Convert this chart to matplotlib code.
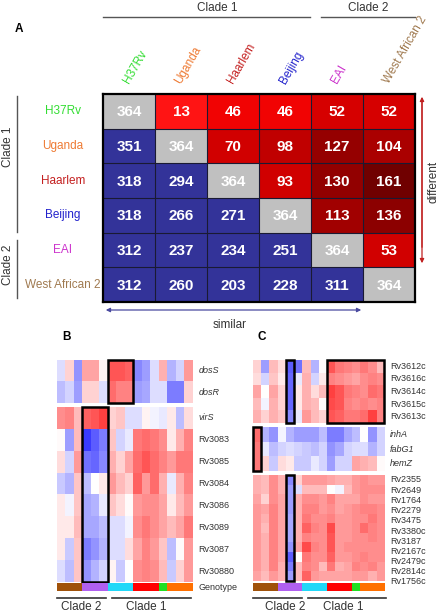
import numpy as np
import matplotlib
matplotlib.use("Agg")
import matplotlib.pyplot as plt
from matplotlib.colors import LinearSegmentedColormap, ListedColormap
from matplotlib.patches import Rectangle, FancyArrowPatch
from matplotlib.lines import Line2D

plt.rcParams['font.family'] = ['Liberation Sans', 'DejaVu Sans']

# ---------------- data ----------------
strains = ["H37Rv", "Uganda", "Haarlem", "Beijing", "EAI", "West African 2"]
strain_colors = ["#33dd33", "#ee7a33", "#c42020", "#2222cc", "#cc33cc", "#a07a50"]
shared = np.array([
    [364, 13, 46, 46, 52, 52],
    [351, 364, 70, 98, 127, 104],
    [318, 294, 364, 93, 130, 161],
    [318, 266, 271, 364, 113, 136],
    [312, 237, 234, 251, 364, 53],
    [312, 260, 203, 228, 311, 364],
])

genotype = ["West African 2"] * 3 + ["EAI"] * 3 + ["Beijing"] * 3 + ["Haarlem"] * 3 + ["H37Rv"] + ["Uganda"] * 3
genotype_names = ["West African 2", "EAI", "Beijing", "Haarlem", "H37Rv", "Uganda"]
genotype_colors = ["#a0520a", "#b060f0", "#22d8f8", "#ff0000", "#22e022", "#ff7000"]

B_top_genes = ["dosS", "dosR"]
B_top = [
    [-0.15, 0.2, -0.5, 0.4, 0.4, 0.05, 0.75, 0.75, 0.7, -0.55, -0.45, -0.15, 0.35, -0.35, -0.2, 0.45],
    [-0.3, -0.2, -0.45, 0.2, 0.2, -0.15, 0.65, 0.55, 0.55, -0.45, -0.4, -0.15, -0.15, -0.6, -0.6, 0.2],
]
B_bot_genes = ["virS", "Rv3083", "Rv3085", "Rv3084", "Rv3086", "Rv3089", "Rv3087", "Rv30880"]
B_bot = [
    [0.5, 0.55, 0.3, 0.7, 0.75, 0.85, 0.2, 0.25, -0.15, -0.15, 0.05, -0.05, -0.1, 0.1, -0.3, 0.15],
    [0.02, -0.45, 0.3, -0.9, -0.75, -0.6, 0.25, -0.2, -0.1, 0.6, 0.65, 0.6, 0.5, 0.1, 0.35, 0.55],
    [0.15, -0.2, 0.45, -0.65, -0.7, -0.55, 0.35, 0.2, 0.4, 0.65, 0.75, 0.65, 0.55, 0.45, 0.6, 0.6],
    [-0.25, -0.35, 0.25, -0.3, 0.0, 0.1, 0.45, 0.3, 0.2, 0.7, 0.45, 0.65, 0.35, -0.1, 0.35, 0.55],
    [0.1, -0.05, 0.25, -0.4, -0.35, -0.1, 0.25, 0.15, 0.02, 0.45, 0.5, 0.5, 0.4, 0.1, 0.3, 0.45],
    [0.1, 0.1, 0.3, -0.4, -0.4, -0.3, -0.15, -0.15, -0.05, 0.5, 0.6, 0.5, 0.4, 0.3, 0.4, 0.6],
    [0.1, -0.25, 0.25, -0.6, -0.5, -0.35, -0.15, -0.15, 0.15, 0.4, 0.55, 0.45, 0.25, -0.3, 0.02, 0.45],
    [-0.15, -0.3, 0.25, -0.5, -0.35, -0.2, 0.05, -0.25, 0.0, 0.5, 0.55, 0.5, 0.3, -0.25, 0.2, 0.45],
]

C_top_genes = ["Rv3612c", "Rv3616c", "Rv3614c", "Rv3615c", "Rv3613c"]
C_top = [
    [0.2, -0.45, 0.3, 0.15, -0.75, -0.65, 0.3, -0.35, 0.02, 0.75, 0.6, 0.55, 0.5, 0.6, 0.5, 0.3],
    [0.15, -0.2, 0.25, 0.1, -0.7, -0.1, 0.35, -0.2, 0.1, 0.55, 0.5, 0.45, 0.4, 0.5, 0.55, 0.5],
    [0.4, 0.0, 0.4, 0.2, -0.7, 0.1, 0.35, 0.15, 0.3, 0.85, 0.75, 0.6, 0.55, 0.5, 0.65, 0.6],
    [0.3, -0.05, 0.35, 0.2, -0.7, 0.1, 0.35, 0.3, 0.02, 0.8, 0.75, 0.55, 0.5, 0.55, 0.5, 0.55],
    [0.35, 0.2, 0.35, 0.25, -0.55, -0.1, 0.45, 0.3, 0.2, 0.75, 0.7, 0.6, 0.6, 0.65, 0.85, 0.55],
]
C_mid_genes = ["inhA", "fabG1", "hemZ"]
C_mid = [
    [0.65, -0.35, -0.5, -0.05, -0.35, -0.45, -0.45, -0.45, -0.3, -0.6, -0.6, -0.4, -0.3, 0.0, -0.5, -0.2],
    [0.6, -0.1, -0.3, -0.2, -0.15, -0.2, -0.25, -0.3, -0.2, -0.5, -0.4, -0.2, -0.15, -0.15, -0.35, -0.2],
    [0.6, 0.2, -0.25, 0.15, 0.1, -0.25, -0.25, -0.1, -0.2, -0.45, -0.2, -0.2, 0.4, 0.35, 0.3, 0.02],
]
C_bot_genes = ["Rv2355", "Rv2649", "Rv1764", "Rv2279", "Rv3475", "Rv3380c", "Rv3187",
               "Rv2167c", "Rv2479c", "Rv2814c", "Rv1756c"]
C_bot = [
    [0.35, 0.3, 0.5, 0.35, -0.55, 0.2, 0.45, 0.45, 0.45, 0.4, 0.35, 0.35, 0.45, 0.5, 0.45, 0.45],
    [0.35, 0.3, 0.5, 0.35, -0.45, -0.15, 0.3, 0.3, 0.3, 0.0, -0.05, 0.3, 0.45, 0.5, 0.5, 0.5],
    [0.4, 0.2, 0.5, 0.4, -0.45, 0.35, 0.5, 0.5, 0.45, 0.55, 0.4, 0.4, 0.4, 0.5, 0.45, 0.45],
    [0.45, 0.4, 0.55, 0.4, -0.45, 0.35, 0.55, 0.55, 0.45, 0.5, 0.4, 0.45, 0.5, 0.55, 0.55, 0.5],
    [0.45, 0.35, 0.55, 0.4, -0.4, 0.35, 0.6, 0.5, 0.5, 0.55, 0.45, 0.45, 0.5, 0.5, 0.6, 0.5],
    [0.45, 0.3, 0.55, 0.4, -0.4, 0.35, 0.7, 0.55, 0.5, 0.8, 0.45, 0.45, 0.5, 0.65, 0.55, 0.5],
    [0.45, 0.35, 0.55, 0.4, -0.4, 0.35, 0.55, 0.5, 0.5, 0.75, 0.45, 0.45, 0.5, 0.5, 0.55, 0.5],
    [0.45, 0.35, 0.55, 0.4, -0.5, 0.4, 0.8, 0.55, 0.5, 0.75, 0.45, 0.5, 0.5, 0.5, 0.5, 0.5],
    [0.45, 0.35, 0.55, 0.4, -0.75, 0.0, 0.6, 0.5, 0.5, 0.7, 0.45, 0.45, 0.5, 0.55, 0.5, 0.5],
    [0.45, 0.35, 0.55, 0.35, -0.6, 0.3, 0.55, 0.5, 0.3, 0.6, 0.35, 0.4, 0.55, 0.5, 0.55, 0.45],
    [0.4, 0.3, 0.45, 0.35, -0.45, 0.3, 0.7, 0.45, 0.4, 0.4, 0.4, 0.4, 0.45, 0.45, 0.35, 0.45],
]

# ---------------- figure ----------------
W, H = 440, 615
fig = plt.figure(figsize=(W / 100, H / 100), dpi=100)
TXT = "#333333"


def fax(x0, y0, x1, y1):
    return fig.add_axes([x0 / W, 1 - y1 / H, (x1 - x0) / W, (y1 - y0) / H])


def fx(x):
    return x / W


def fy(y):
    return 1 - y / H


def fline(x0, y0, x1, y1, color="#555555", lw=1.0):
    fig.add_artist(Line2D([fx(x0), fx(x1)], [fy(y0), fy(y1)], transform=fig.transFigure,
                          color=color, lw=lw))


def ftext(x, y, s, **kw):
    kw.setdefault("color", TXT)
    kw.setdefault("fontsize", 8.5)
    fig.text(fx(x), fy(y), s, **kw)


# ---------------- panel A ----------------
red_cmap = LinearSegmentedColormap.from_list(
    "reds", [(0.0, "#ff1414"), (0.22, "#f40404"), (0.27, "#d20000"), (0.55, "#d00000"),
             (0.62, "#a80000"), (0.8, "#920000"), (1.0, "#700000")])
n = len(strains)
upper_vals = [shared[i, j] for i in range(n) for j in range(n) if j > i]
vmin, vmax = min(upper_vals), max(upper_vals)
rgb = np.zeros((n, n, 3))
for i in range(n):
    for j in range(n):
        if i == j:
            rgb[i, j] = matplotlib.colors.to_rgb("#c0c0c0")
        elif j > i:
            rgb[i, j] = red_cmap((shared[i, j] - vmin) / (vmax - vmin))[:3]
        else:
            rgb[i, j] = matplotlib.colors.to_rgb("#333399")

axA = fax(103, 94, 415, 302)
axA.imshow(rgb, aspect="auto", interpolation="nearest")
for k in range(1, n):
    axA.axhline(k - 0.5, color="#1a1a33", lw=0.8)
    axA.axvline(k - 0.5, color="#1a1a33", lw=0.8)
for sp in axA.spines.values():
    sp.set_linewidth(1.6)
    sp.set_color("black")
axA.set_xticks([])
axA.set_yticks([])
for i in range(n):
    for j in range(n):
        axA.text(j, i + 0.03, str(shared[i, j]), ha="center", va="center",
                 color="white", fontsize=11, fontweight="bold")
for j, (s, c) in enumerate(zip(strains, strain_colors)):
    axA.text(j - 0.05, -0.82, s, rotation=60, rotation_mode="anchor", ha="left",
             va="center", color=c, fontsize=8.5, clip_on=False)
for i, (s, c) in enumerate(zip(strains, strain_colors)):
    axA.text(-1.27, i, s, ha="center", va="center", color=c, fontsize=8.5, clip_on=False)

ftext(15, 29, "A", fontweight="bold", fontsize=8.5, color="black", ha="left", va="center")
# clade brackets
ftext(217, 8, "Clade 1", ha="center", va="center")
fline(103, 17, 310, 17)
ftext(368, 8, "Clade 2", ha="center", va="center")
fline(321, 17, 415, 17)
fline(17, 96, 17, 232)
ftext(8, 147, "Clade 1", ha="center", va="center", rotation=90)
fline(17, 240, 17, 298)
ftext(8, 265, "Clade 2", ha="center", va="center", rotation=90)
# arrows
fig.add_artist(FancyArrowPatch((fx(422), fy(96)), (fx(422), fy(266)), transform=fig.transFigure,
                               arrowstyle="-|>", mutation_scale=6, color="#c02020", lw=0.9))
fig.add_artist(FancyArrowPatch((fx(422), fy(250)), (fx(422), fy(94)), transform=fig.transFigure,
                               arrowstyle="-|>", mutation_scale=6, color="#c02020", lw=0.9))
ftext(433, 182, "different", ha="center", va="center", rotation=90)
fig.add_artist(FancyArrowPatch((fx(103), fy(310)), (fx(364), fy(310)), transform=fig.transFigure,
                               arrowstyle="<|-|>", mutation_scale=6, color="#4a4aa0", lw=0.9))
ftext(230, 325, "similar", ha="center", va="center")

# ---------------- heatmaps B, C ----------------
hm_cmap = LinearSegmentedColormap.from_list("bwr2", [(0.15, 0.15, 1.0), (1, 1, 1), (1, 0.12, 0.12)])
geno_cmap = ListedColormap(genotype_colors)
geno_idx = np.array([[genotype_names.index(g) for g in genotype]])


def heat(box, data, labels, italic=False, boxes=(), label_pos=None, fs=6.5):
    ax = fax(*box)
    arr = np.array(data)
    ax.imshow(arr, cmap=hm_cmap, vmin=-1, vmax=1, aspect="auto", interpolation="nearest")
    ax.set_axis_off()
    ncol = arr.shape[1]
    for r, lab in enumerate(labels):
        y = r if label_pos is None else label_pos[r]
        ax.text(ncol - 0.5 + 0.75, y, lab, ha="left", va="center", fontsize=fs, color=TXT,
                style="italic" if italic else "normal", clip_on=False)
    for (c0, c1, r0, r1) in boxes:
        ax.add_patch(Rectangle((c0 - 0.5, r0 - 0.5), c1 - c0 + 1, r1 - r0 + 1, fill=False,
                               ec="black", lw=1.8, clip_on=False, zorder=5))
    return ax


def geno(box, label=True):
    ax = fax(*box)
    ax.imshow(geno_idx, cmap=geno_cmap, vmin=-0.5, vmax=len(genotype_names) - 0.5,
              aspect="auto", interpolation="nearest")
    ax.set_axis_off()
    if label:
        ax.text(16 - 0.5 + 0.75, 0, "Genotype", ha="left", va="center", fontsize=6.5,
                color=TXT, clip_on=False)
    return ax


# Panel B
ftext(62, 337, "B", fontweight="bold", color="black", ha="left", va="center")
heat((57, 360, 192, 403), B_top, B_top_genes, italic=True, boxes=[(6, 8, 0, 1)])
axBb = heat((57, 407, 192, 582), B_bot, B_bot_genes, boxes=[(3, 5, 0, 7)])
axBb.texts[0].set_style("italic")
geno((57, 583, 192, 591))
fline(57, 598, 106, 598, color="#333333", lw=1.2)
fline(112, 598, 191, 598, color="#333333", lw=1.2)
ftext(81, 607, "Clade 2", ha="center", va="center")
ftext(146, 607, "Clade 1", ha="center", va="center")

# Panel C
ftext(258, 337, "C", fontweight="bold", color="black", ha="left", va="center")
heat((253, 360, 384, 423), C_top, C_top_genes, boxes=[(4, 4, 0, 4), (9, 15, 0, 4)])
heat((253, 427, 384, 471), C_mid, C_mid_genes, italic=True, boxes=[(0, 0, 0, 2)])
nb = len(C_bot_genes)
lab_pos = [(480 + k * (582 - 480) / (nb - 1) - 475) / ((581 - 475) / nb) - 0.5 for k in range(nb)]
heat((253, 475, 384, 581), C_bot, C_bot_genes, boxes=[(4, 4, 0, nb - 1)], label_pos=lab_pos)
geno((253, 583, 384, 591), label=False)
fline(253, 598, 302, 598, color="#333333", lw=1.2)
fline(308, 598, 386, 598, color="#333333", lw=1.2)
ftext(285, 607, "Clade 2", ha="center", va="center")
ftext(343, 607, "Clade 1", ha="center", va="center")

fig.savefig("out.png", dpi=100)
